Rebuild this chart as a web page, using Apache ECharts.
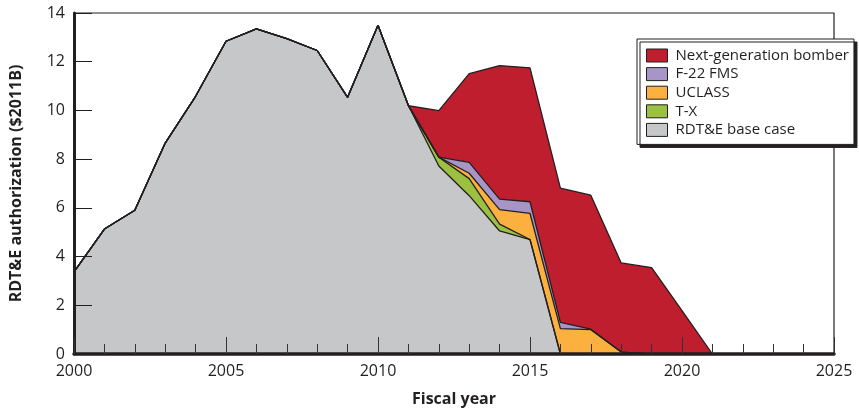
<!DOCTYPE html>
<html>
<head>
<meta charset="utf-8">
<script src="https://cdn.jsdelivr.net/npm/echarts@6/dist/echarts.min.js"></script>
<style>
html,body{margin:0;padding:0;background:#fff;}
#chart{width:859px;height:412px;}
</style>
</head>
<body>
<div id="chart"></div>
<script>
const years = [2000,2001,2002,2003,2004,2005,2006,2007,2008,2009,2010,2011,2012,2013,2014,2015,2016,2017,2018,2019,2020,2021,2022,2023,2024,2025];
const baseCase = [3.37,5.13,5.9,8.66,10.58,12.84,13.35,12.95,12.46,10.54,13.5,10.2,7.72,6.5,5.05,4.7,0,0,0,0,0,0,0,0,0,0];
const tx       = [0,0,0,0,0,0,0,0,0,0,0,0,0.36,0.7,0.28,0,0,0,0,0,0,0,0,0,0,0];
const uclass   = [0,0,0,0,0,0,0,0,0,0,0,0,0,0.22,0.6,1.07,1.04,1.0,0.08,0,0,0,0,0,0,0];
const f22      = [0,0,0,0,0,0,0,0,0,0,0,0,0,0.45,0.43,0.48,0.26,0.02,0,0,0,0,0,0,0,0];
const bomber   = [0,0,0,0,0,0,0,0,0,0,0,0,1.91,3.64,5.48,5.5,5.51,5.5,3.66,3.55,1.78,0,0,0,0,0];
const seriesNames = ['RDT&E base case','T-X','UCLASS','F-22 FMS','Next-generation bomber'];
const legendOrder = ['Next-generation bomber','F-22 FMS','UCLASS','T-X','RDT&E base case'];
const yTicks = [0,2,4,6,8,10,12,14];

const colors = {
  'RDT&E base case':'#c6c7c9',
  'T-X':'#9cc03f',
  'UCLASS':'#fbb040',
  'F-22 FMS':'#a895c8',
  'Next-generation bomber':'#be1e2d'
};
const dark = '#231f20';
const values = [baseCase, tx, uclass, f22, bomber];

const chart = echarts.init(document.getElementById('chart'));
const series = seriesNames.map((name, i) => ({
  name: name,
  type: 'line',
  stack: 'total',
  xAxisIndex: 0,
  symbol: 'none',
  z: 2,
  lineStyle: {color: dark, width: 1.3},
  itemStyle: {color: colors[name], borderColor: dark},
  areaStyle: {color: colors[name], opacity: 1},
  data: values[i]
}));

chart.setOption({
  animation: false,
  textStyle: {fontFamily: 'Open Sans'},
  grid: {left: 71, right: 25, top: 13, bottom: 58, show: true, borderColor: dark, borderWidth: 1.2, backgroundColor: 'transparent'},
  legend: {
    orient: 'vertical',
    left: 637, top: 39,
    padding: [9, 5, 7, 9],
    itemWidth: 21, itemHeight: 13, itemGap: 3.6,
    backgroundColor: '#fff',
    borderColor: dark, borderWidth: 1,
    shadowColor: dark, shadowBlur: 0, shadowOffsetX: 3, shadowOffsetY: 3,
    textStyle: {fontSize: 15, color: dark, fontFamily: 'Open Sans', padding: [0,0,0,3]},
    data: legendOrder.map(n => ({name: n, icon: 'rect', itemStyle: {color: colors[n], borderColor: dark, borderWidth: 1}}))
  },
  xAxis: [{
    type: 'category', data: years, boundaryGap: false, position: 'bottom',
    show: false
  }, {
    type: 'value', min: 2000, max: 2025, interval: 5, position: 'bottom',
    name: 'Fiscal year', nameLocation: 'middle', nameGap: 37,
    nameTextStyle: {fontSize: 16, fontWeight: 'bold', color: dark, fontFamily: 'Open Sans'},
    axisLine: {show: true, onZero: false, lineStyle: {color: dark, width: 3.5}},
    axisTick: {show: true, inside: true, length: 17, lineStyle: {color: '#333', width: 1}},
    minorTick: {show: true, splitNumber: 5, length: 10, lineStyle: {color: '#333', width: 1}},
    splitLine: {show: false},
    axisLabel: {fontSize: 16, color: dark, margin: 9, formatter: v => String(v)},
    z: 5
  }],
  yAxis: {
    type: 'value', min: 0, max: 14, interval: 2,
    name: 'RDT&E authorization ($2011B)', nameLocation: 'middle', nameGap: 50, nameRotate: 90,
    nameTextStyle: {fontSize: 16, fontWeight: 'bold', color: dark, fontFamily: 'Open Sans'},
    axisLine: {show: true, lineStyle: {color: dark, width: 3}},
    axisTick: {show: true, inside: true, length: 18, lineStyle: {color: dark, width: 1}},
    splitLine: {show: false},
    axisLabel: {fontSize: 16, color: dark, margin: 9, formatter: v => yTicks.includes(v) ? String(v) : ''},
    z: 5
  },
  series: series
});
</script>
</body>
</html>
